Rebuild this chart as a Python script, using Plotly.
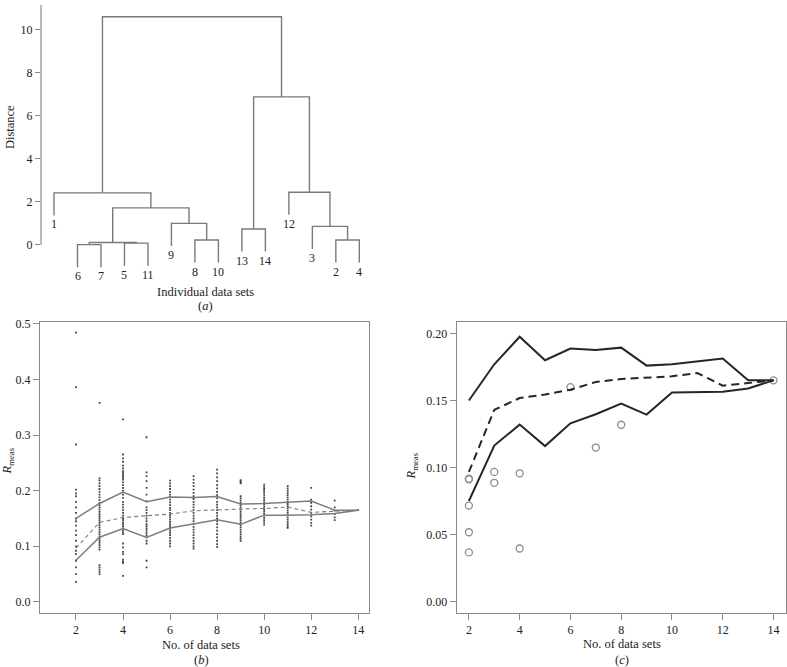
import plotly.graph_objects as go

# ---------------- Panel (a): dendrogram data ----------------
leaf_order = [1, 6, 7, 5, 11, 9, 8, 10, 13, 14, 12, 3, 2, 4]
# hclust-style merges: negative = leaf label, positive = earlier merge (1-based)
merge_left = [-6, -5, 1, -8, -2, -13, -3, -9, 3, -1, -12, 6, 10]
merge_right = [-7, -11, 2, -10, -4, -14, 5, 4, 8, 9, 7, 11, 12]
merge_height = [0.01, 0.08, 0.11, 0.23, 0.23, 0.74, 0.86, 1.00, 1.72, 2.42, 2.45, 6.88, 10.61]
hang = 1.05
dist_ticks = [0, 2, 4, 6, 8, 10]

# ---------------- Panels (b) and (c): R_meas data ----------------
n_sets = [2, 3, 4, 5, 6, 7, 8, 9, 10, 11, 12, 13, 14]
upper = [0.150, 0.177, 0.1975, 0.180, 0.1887, 0.1877, 0.1894, 0.176, 0.177, 0.179, 0.1813, 0.165, 0.165]
lower = [0.075, 0.1164, 0.132, 0.116, 0.133, 0.1397, 0.1476, 0.1395, 0.156, 0.156, 0.1565, 0.159, 0.165]
mean_r = [0.0967, 0.143, 0.1518, 0.1545, 0.158, 0.1638, 0.166, 0.167, 0.168, 0.1705, 0.161, 0.163, 0.165]

circle_n = [2, 2, 2, 2, 2, 3, 3, 4, 4, 6, 7, 8, 14]
circle_r = [0.0917, 0.0912, 0.0716, 0.0517, 0.0367, 0.0967, 0.0886, 0.0957, 0.0396, 0.160, 0.1149, 0.1319, 0.165]

dots_2 = [0.484, 0.386, 0.283, 0.202, 0.195, 0.190, 0.180, 0.170, 0.160, 0.150, 0.145, 0.137, 0.128,
          0.120, 0.110, 0.100, 0.092, 0.086, 0.074, 0.062, 0.050, 0.036]
dots_3 = [0.358, 0.222, 0.218, 0.213, 0.208, 0.203, 0.198, 0.193, 0.188, 0.183, 0.178, 0.174, 0.170,
          0.166, 0.162, 0.158, 0.154, 0.150, 0.146, 0.142, 0.138, 0.134, 0.130, 0.126, 0.122, 0.118,
          0.114, 0.110, 0.106, 0.102, 0.098, 0.094, 0.066, 0.062, 0.058, 0.054, 0.050]
dots_4 = [0.328, 0.265, 0.258, 0.252, 0.245, 0.240, 0.235, 0.232, 0.229, 0.226, 0.223, 0.220, 0.215,
          0.210, 0.205, 0.200, 0.193, 0.187, 0.180, 0.175, 0.170, 0.165, 0.160, 0.155, 0.150, 0.147,
          0.143, 0.140, 0.136, 0.132, 0.128, 0.125, 0.122, 0.105, 0.098, 0.090, 0.086, 0.076, 0.073,
          0.070, 0.047]
dots_5 = [0.296, 0.233, 0.226, 0.217, 0.205, 0.193, 0.181, 0.170, 0.165, 0.160, 0.155, 0.150, 0.145,
          0.140, 0.136, 0.132, 0.128, 0.124, 0.120, 0.116, 0.110, 0.105, 0.074, 0.062]
dots_6 = [0.218, 0.213, 0.208, 0.203, 0.198, 0.193, 0.189, 0.184, 0.179, 0.174, 0.169, 0.165, 0.160,
          0.156, 0.152, 0.148, 0.144, 0.140, 0.136, 0.132, 0.128, 0.124, 0.120, 0.115, 0.110, 0.105, 0.100]
dots_7 = [0.226, 0.220, 0.214, 0.208, 0.202, 0.196, 0.190, 0.185, 0.180, 0.175, 0.170, 0.165, 0.160,
          0.155, 0.150, 0.145, 0.140, 0.135, 0.130, 0.125, 0.120, 0.115, 0.110, 0.105, 0.100, 0.096]
dots_8 = [0.238, 0.231, 0.224, 0.217, 0.210, 0.204, 0.198, 0.192, 0.186, 0.180, 0.175, 0.170, 0.165,
          0.160, 0.155, 0.150, 0.145, 0.140, 0.134, 0.128, 0.122, 0.116, 0.110, 0.104, 0.099]
dots_9 = [0.219, 0.217, 0.215, 0.213, 0.190, 0.186, 0.182, 0.178, 0.174, 0.170, 0.166, 0.162, 0.158,
          0.154, 0.150, 0.146, 0.142, 0.138, 0.134, 0.130, 0.126, 0.122, 0.118, 0.114, 0.110]
dots_10 = [0.211, 0.207, 0.203, 0.199, 0.195, 0.191, 0.187, 0.183, 0.179, 0.175, 0.171, 0.167, 0.163,
           0.159, 0.155, 0.151, 0.147, 0.143, 0.139]
dots_11 = [0.208, 0.204, 0.200, 0.196, 0.192, 0.188, 0.184, 0.180, 0.176, 0.172, 0.168, 0.164, 0.160,
           0.156, 0.152, 0.148, 0.144, 0.140, 0.136, 0.133]
dots_12 = [0.205, 0.184, 0.178, 0.172, 0.166, 0.160, 0.154, 0.148, 0.142, 0.137]
dots_13 = [0.182, 0.170, 0.164, 0.158, 0.152, 0.147]
dots_14 = [0.165]

W, H = 787, 667
FONT = "Liberation Serif, Times New Roman, serif"
AXC = "#8a8a8a"


def px(x):
    return x / W


def py(y):
    return 1 - y / H


fig = go.Figure()

# ---- dendrogram geometry from the merge table ----
leaf_x = {lab: i + 1 for i, lab in enumerate(leaf_order)}
node_x, node_h = {}, {}
dx, dy = [], []
leaf_ends = []


def child_info(c, parent_h):
    if c < 0:
        return leaf_x[-c], parent_h - hang, -c
    return node_x[c], node_h[c], None


for k, (l, r, h) in enumerate(zip(merge_left, merge_right, merge_height), start=1):
    xl, yl, labl = child_info(l, h)
    xr, yr, labr = child_info(r, h)
    dx += [xl, xl, xr, xr, None]
    dy += [yl, h, h, yr, None]
    for lab, xx, yy in ((labl, xl, yl), (labr, xr, yr)):
        if lab is not None:
            leaf_ends.append((lab, xx, yy))
    node_x[k] = (xl + xr) / 2
    node_h[k] = h

fig.add_trace(go.Scatter(x=dx, y=dy, mode="lines", line=dict(color="#7a7a7a", width=1.4),
                         xaxis="x", yaxis="y", showlegend=False, hoverinfo="skip"))
for lab, xx, yy in leaf_ends:
    fig.add_annotation(x=xx, y=yy, xref="x", yref="y", text=str(lab), showarrow=False,
                       yanchor="top", xanchor="center", yshift=0,
                       font=dict(family=FONT, size=12, color="#222"))

# ---- panel (b) ----
dot_cols = [dots_2, dots_3, dots_4, dots_5, dots_6, dots_7, dots_8, dots_9, dots_10,
            dots_11, dots_12, dots_13, dots_14]
bx, by = [], []
for n, col in zip(n_sets, dot_cols):
    bx += [n] * len(col)
    by += col
fig.add_trace(go.Scatter(x=bx, y=by, mode="markers", xaxis="x2", yaxis="y2",
                         marker=dict(symbol="square", size=1.8, color="#444", line=dict(width=0)),
                         showlegend=False, hoverinfo="skip"))
for series, dash, wdt in ((upper, "solid", 1.5), (lower, "solid", 1.5), (mean_r, "dash", 1.1)):
    fig.add_trace(go.Scatter(x=n_sets, y=series, mode="lines", xaxis="x2", yaxis="y2",
                             line=dict(color="#7d7d7d", width=wdt, dash="4px,3px" if dash == "dash" else "solid"),
                             showlegend=False, hoverinfo="skip"))

# ---- panel (c) ----
fig.add_trace(go.Scatter(x=circle_n, y=circle_r, mode="markers", xaxis="x3", yaxis="y3",
                         marker=dict(symbol="circle-open", size=7, color="#8c8c8c", line=dict(width=1.3)),
                         showlegend=False, hoverinfo="skip"))
for series, dash in ((upper, "solid"), (lower, "solid"), (mean_r, "8px,5px")):
    fig.add_trace(go.Scatter(x=n_sets, y=series, mode="lines", xaxis="x3", yaxis="y3",
                             line=dict(color="#262626", width=2, dash=dash),
                             showlegend=False, hoverinfo="skip"))

tickfont = dict(family=FONT, size=12, color="#222")

# axis (a)
a_top, a_bot = 0.0, 285.0
a_y0, a_unit = 241.7, 21.67
fig.update_layout(
    xaxis=dict(domain=[px(41), px(372)], range=[0.446, 14.54], visible=False, anchor="y"),
    yaxis=dict(domain=[py(a_bot), py(a_top)],
               range=[(a_y0 - a_bot) / a_unit, (a_y0 - a_top) / a_unit],
               anchor="x", tickvals=dist_ticks, ticks="outside", ticklen=5, tickcolor=AXC,
               showline=False, showgrid=False, zeroline=False, tickfont=tickfont),
    xaxis2=dict(domain=[px(40), px(369.3)], range=[0.47, 14.47], anchor="y2",
                tickvals=[2, 4, 6, 8, 10, 12, 14], ticks="outside", ticklen=6, tickcolor=AXC,
                showline=True, mirror=True, linecolor=AXC, linewidth=1.2,
                showgrid=False, zeroline=False, tickfont=tickfont),
    yaxis2=dict(domain=[py(612.3), py(319.3)], range=[-0.0194, 0.5034], anchor="x2",
                tickvals=[0, 0.1, 0.2, 0.3, 0.4, 0.5], tickformat=".1f", ticks="outside", ticklen=6,
                tickcolor=AXC, showline=True, mirror=True, linecolor=AXC, linewidth=1.2,
                showgrid=False, zeroline=False, tickfont=tickfont),
    xaxis3=dict(domain=[px(456.7), px(785.7)], range=[1.52, 14.48], anchor="y3",
                tickvals=[2, 4, 6, 8, 10, 12, 14], ticks="outside", ticklen=6, tickcolor=AXC,
                showline=True, mirror=True, linecolor=AXC, linewidth=1.2,
                showgrid=False, zeroline=False, tickfont=tickfont),
    yaxis3=dict(domain=[py(612.3), py(319.3)], range=[-0.0083, 0.2086], anchor="x3",
                tickvals=[0, 0.05, 0.10, 0.15, 0.20], tickformat=".2f", ticks="outside", ticklen=6,
                tickcolor=AXC, showline=True, mirror=True, linecolor=AXC, linewidth=1.2,
                showgrid=False, zeroline=False, tickfont=tickfont),
)

# axis line for (a)
fig.add_shape(type="line", xref="paper", yref="y", x0=px(41), x1=px(41),
              y0=0, y1=(a_y0 - a_top) / a_unit, line=dict(color=AXC, width=1.2))

titlefont = dict(family=FONT, size=12.5, color="#222")


def label(text, x, y, angle=0):
    fig.add_annotation(x=px(x), y=py(y), xref="paper", yref="paper", text=text, showarrow=False,
                       textangle=angle, xanchor="center", yanchor="middle", font=titlefont)


label("Distance", 10, 123, -90)
label("Individual data sets", 205.5, 289)
label("(<i>a</i>)", 205, 303)
label("<i>R</i><sub>meas</sub>", 8, 460, -90)
label("No. of data sets", 201, 645)
label("(<i>b</i>)", 201, 660)
label("<i>R</i><sub>meas</sub>", 412, 465, -90)
label("No. of data sets", 622, 644)
label("(<i>c</i>)", 622, 660)

fig.update_layout(width=W, height=H, margin=dict(l=0, r=0, t=0, b=0),
                  paper_bgcolor="white", plot_bgcolor="white", showlegend=False)

fig.write_html("out.html", config={"displayModeBar": False},
               post_script="document.body.style.margin='0px';document.body.style.overflow='hidden';")
